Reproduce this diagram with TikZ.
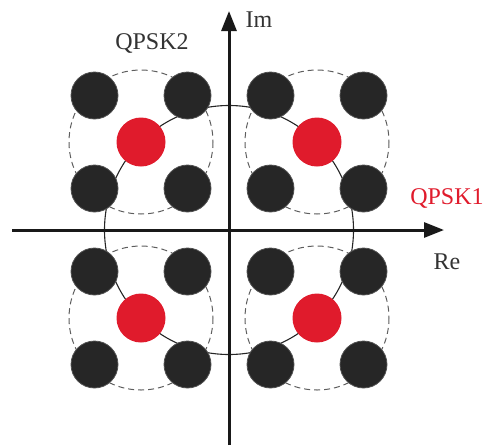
\documentclass[tikz,border=0pt]{standalone}
\usepackage{fontspec}
\setmainfont{Liberation Serif}
\usetikzlibrary{arrows.meta}
\definecolor{dotblack}{HTML}{262626}
\definecolor{dotred}{HTML}{E01B2C}
\definecolor{dashgray}{HTML}{5E5E5E}
\tikzset{
  blackdot/.style={circle,fill=dotblack,draw=dotblack!80,line width=0.8pt,minimum size=47pt,inner sep=0pt},
  reddot/.style={circle,fill=dotred,minimum size=49pt,inner sep=0pt},
  dashring/.style={draw=dashgray,line width=1pt,dash pattern=on 6pt off 4pt},
  axis/.style={draw=black!90,line width=3pt,-{Triangle[length=20pt,width=15pt]}},
  label/.style={font=\fontsize{24}{28}\selectfont,text=black!80,inner sep=0pt},
}
\begin{document}
\begin{tikzpicture}[x=1pt,y=-1pt]
\useasboundingbox (0,0) rectangle (485,445);
% origin
\coordinate (O) at (229,230);
% big solid circle through red points
\draw[line width=1.1pt,draw=black!85] (O) circle[radius=124.5];
% axes
\coordinate (xs) at (12,230);
\coordinate (xe) at (444,230);
\coordinate (ys) at (229,445);
\coordinate (ye) at (229,11);
\draw[axis] (xs) -- (xe);
\draw[axis] (ys) -- (ye);
% dashed rings
\foreach \cx/\cy in {141/142, 317/142, 141/318, 317/318}{
  \draw[dashring] (\cx,\cy) circle[radius=72];
}
% quadrant groups
\foreach \q/\cx/\cy in {a/141/142, b/317/142, c/141/318, d/317/318}{
  \node[blackdot] (\q1) at (\cx-46.5,\cy-46.5) {};
  \node[blackdot] (\q2) at (\cx+46.5,\cy-46.5) {};
  \node[blackdot] (\q3) at (\cx-46.5,\cy+46.5) {};
  \node[blackdot] (\q4) at (\cx+46.5,\cy+46.5) {};
  \node[reddot] (\q0) at (\cx,\cy) {};
}
% labels
\node[label] (qpsk2) at (152,43) {QPSK2};
\node[label] (im) at (259,20) {Im};
\node[label,text=dotred] (qpsk1) at (447,198) {QPSK1};
\node[label] (re) at (447,262) {Re};
\end{tikzpicture}
\end{document}
